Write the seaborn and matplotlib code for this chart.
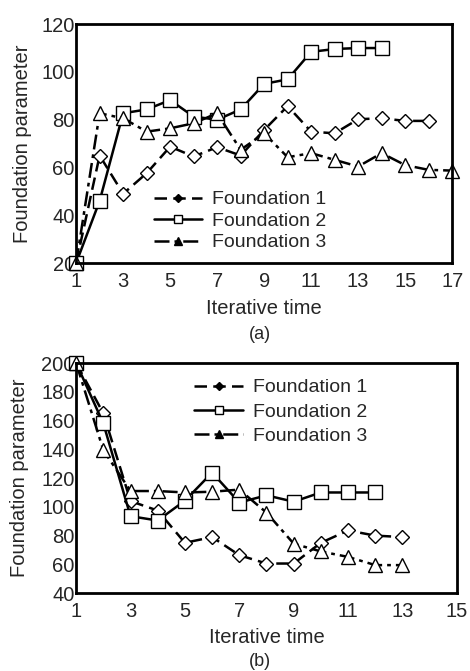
import numpy as np
import pandas as pd
import seaborn as sns
import matplotlib
matplotlib.use("Agg")
import matplotlib.pyplot as plt
from matplotlib.lines import Line2D

# ---------- data (a) ----------
a_f1_x = list(range(1, 17))
a_f1_y = [20, 65, 49, 57.6, 68.7, 64.6, 68.5, 65, 75.7, 85.7, 75, 74.3, 80.2, 80.6, 79.5, 79.5]
a_f2_x = list(range(1, 15))
a_f2_y = [20, 46, 82.7, 84.3, 88.2, 81.3, 80, 84.3, 95, 96.9, 108.4, 109.6, 110, 110]
a_f3_x = list(range(1, 18))
a_f3_y = [20, 82.7, 80.6, 75, 76.4, 78.5, 82.7, 67.4, 74.3, 64.3, 66, 63.2, 60.4, 66, 61, 59, 58.7]

# ---------- data (b) ----------
b_f1_x = list(range(1, 14))
b_f1_y = [200, 165, 104, 97.4, 75, 79, 66.4, 60.6, 60.6, 75, 83.6, 80, 79]
b_f2_x = list(range(1, 13))
b_f2_y = [200, 158, 93.5, 90.5, 104.3, 123.8, 103, 108, 103.6, 110, 110, 110]
b_f3_x = list(range(1, 14))
b_f3_y = [200, 139.4, 111, 111, 110, 110.5, 112, 96, 74.4, 69, 65.2, 59.5, 59.5]

labels = ["Foundation 1", "Foundation 2", "Foundation 3"]
a_xticks = list(range(1, 18, 2))
a_yticks = list(range(20, 121, 20))
b_xticks = list(range(1, 16, 2))
b_yticks = list(range(40, 201, 20))

sns.set_style("white")
plt.rcParams["font.family"] = ["Liberation Sans", "DejaVu Sans"]

styles = [
    dict(marker="D", linestyle=(0, (5, 2.5)), markersize=7.5),
    dict(marker="s", linestyle="-", markersize=9.5),
    dict(marker="^", linestyle=(0, (6, 2, 1.5, 2)), markersize=10),
]


def draw(ax, xs, ys, xticks, yticks, xlim, ylim, leg_anchor, lspace, xpad, ypad):
    for x, y, st in zip(xs, ys, styles):
        sns.lineplot(
            x=x, y=y, ax=ax, color="black", linewidth=1.8,
            marker=st["marker"], linestyle=st["linestyle"],
            markersize=st["markersize"], markerfacecolor="white",
            markeredgecolor="black", markeredgewidth=1.0, clip_on=False,
        )
    ax.set_xlim(*xlim)
    ax.set_ylim(*ylim)
    ax.set_xticks(xticks)
    ax.set_yticks(yticks)
    ax.tick_params(axis="x", direction="inout", length=7, width=1.8,
                   labelsize=14.5, pad=3, color="black")
    ax.tick_params(axis="y", length=0, labelsize=14.5, pad=1)
    for s in ax.spines.values():
        s.set_linewidth(2.0)
        s.set_color("black")
    ax.set_xlabel("Iterative time", fontsize=14.5, labelpad=xpad)
    ax.set_ylabel("Foundation parameter", fontsize=14.5, labelpad=ypad)

    handles = []
    for st in styles:
        handles.append(Line2D([], [], color="black", linewidth=1.8,
                              linestyle=st["linestyle"], marker=st["marker"],
                              markersize=st["markersize"] * 0.6,
                              markerfacecolor="black" if st["marker"] != "s" else "white",
                              markeredgecolor="black"))
    ax.legend(handles, labels, loc="upper left", bbox_to_anchor=leg_anchor,
              frameon=False, fontsize=14, handlelength=2.5, handletextpad=0.5,
              labelspacing=lspace, borderaxespad=0)


fig = plt.figure(figsize=(4.70, 6.71), dpi=100)
ax1 = fig.add_axes([0.162, 0.608, 0.800, 0.356])
ax2 = fig.add_axes([0.162, 0.116, 0.810, 0.343])

draw(ax1, [a_f1_x, a_f2_x, a_f3_x], [a_f1_y, a_f2_y, a_f3_y],
     a_xticks, a_yticks, (1, 17), (20, 120), (0.186, 0.335), 0.2, 6, 7)
draw(ax2, [b_f1_x, b_f2_x, b_f3_x], [b_f1_y, b_f2_y, b_f3_y],
     b_xticks, b_yticks, (1, 15), (40, 200), (0.29, 0.965), 0.35, 5, 9)

fig.text(0.553, 0.501, "(a)", ha="center", va="center", fontsize=13)
fig.text(0.553, 0.014, "(b)", ha="center", va="center", fontsize=13)

fig.savefig("out.png", dpi=100)
